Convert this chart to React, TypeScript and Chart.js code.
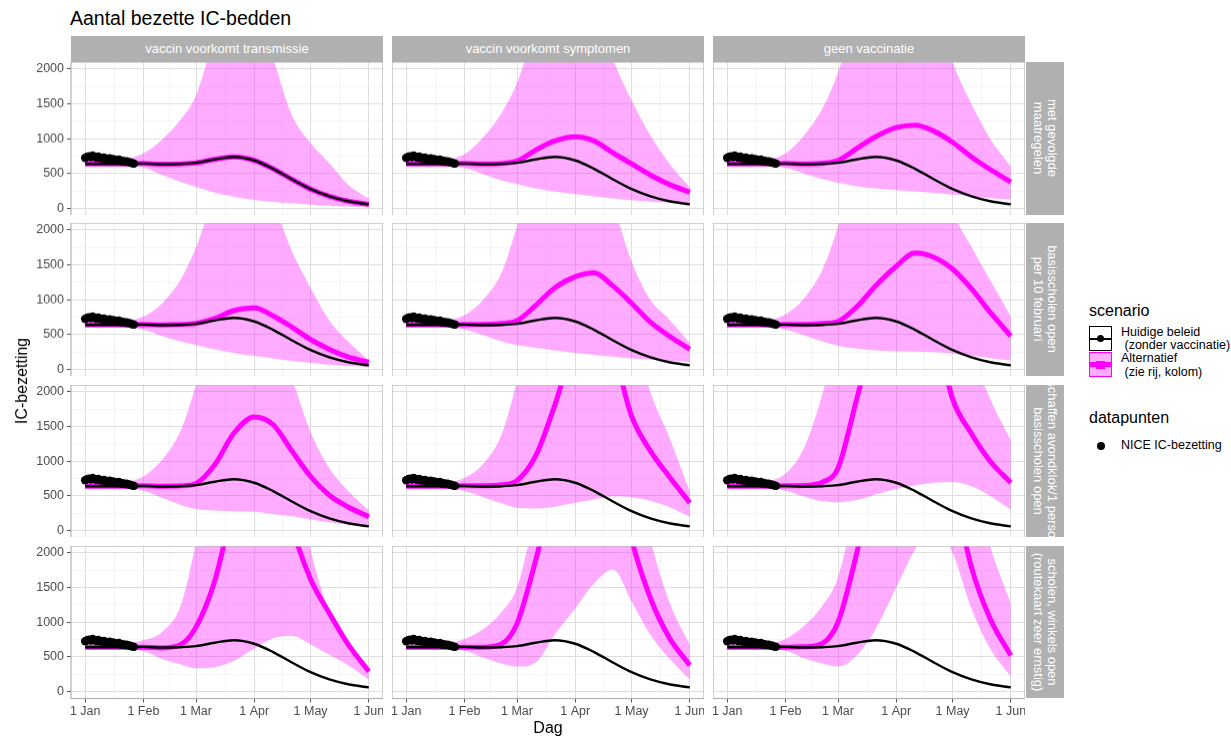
import React, { useEffect, useRef } from "react";
import { Chart, registerables } from "chart.js";

Chart.register(...registerables);

// ---------- data ----------
const days = [0, 10, 20, 31, 41, 51, 59, 69, 79, 90, 100, 110, 120, 130, 140, 151];

const colLabels = ["vaccin voorkomt transmissie", "vaccin voorkomt symptomen", "geen vaccinatie"];
const rowLabels = [
  "met gevolgde\nmaatregelen",
  "basisscholen open\nper 10 februari",
  "afschaffen avondklok/1 persoon\nbasisscholen open",
  "scholen, winkels open\n(routekaart zeer ernstig)",
];

const monthTicks = [0, 31, 59, 90, 120, 151];
const monthLabels = ["1 Jan", "1 Feb", "1 Mar", "1 Apr", "1 May", "1 Jun"];
const minorDayTicks = [15.5, 45, 74.5, 105, 135.5];
const yMajorTicks = [0, 500, 1000, 1500, 2000];
const yMinorTicks = [250, 750, 1250, 1750];

// Huidige beleid (zonder vaccinatie)
const baseline = [640, 640, 640, 645, 635, 640, 655, 705, 740, 690, 570, 420, 280, 175, 105, 60];

// NICE IC-bezetting
const niceDays = [0, 1, 2, 3, 4, 5, 6, 7, 8, 9, 10, 11, 12, 13, 14, 15, 16, 17, 18, 19, 20, 21, 22, 23, 24, 25, 26];
const niceValues = [725, 740, 750, 735, 760, 740, 730, 745, 725, 720, 730, 715, 705, 720, 700, 710, 695, 690, 700, 680, 685, 670, 675, 665, 660, 650, 645];

// Alternatief: mean / lower / upper per panel (row, column)
const mean11 = [640, 640, 640, 645, 635, 640, 655, 705, 740, 690, 570, 420, 280, 175, 105, 60];
const lo11 = [620, 620, 615, 590, 480, 380, 310, 230, 170, 125, 95, 75, 55, 40, 30, 25];
const hi11 = [660, 670, 690, 790, 990, 1280, 1620, 2450, 2950, 2850, 2150, 1340, 940, 650, 340, 140];

const mean12 = [640, 640, 640, 645, 640, 648, 680, 840, 970, 1030, 970, 800, 640, 480, 345, 235];
const lo12 = [620, 620, 615, 580, 490, 400, 350, 290, 245, 205, 175, 145, 120, 100, 85, 70];
const hi12 = [660, 670, 690, 780, 1020, 1380, 1800, 2600, 3200, 3400, 3000, 2150, 1550, 1050, 650, 300];

const mean13 = [640, 640, 640, 645, 640, 650, 690, 860, 1030, 1160, 1195, 1110, 950, 740, 560, 380];
const lo13 = [620, 620, 615, 585, 500, 420, 370, 320, 290, 265, 245, 225, 200, 175, 150, 130];
const hi13 = [660, 670, 690, 790, 1050, 1450, 1950, 2800, 3500, 3800, 3600, 3000, 2100, 1500, 1000, 600];

const mean21 = [640, 640, 640, 645, 640, 645, 660, 730, 845, 885, 770, 610, 430, 290, 180, 105];
const lo21 = [620, 620, 615, 575, 480, 400, 350, 290, 240, 195, 160, 125, 95, 70, 50, 35];
const hi21 = [660, 670, 690, 760, 950, 1300, 1750, 2500, 3000, 2900, 2400, 1700, 1170, 700, 400, 130];

const mean22 = [640, 640, 640, 645, 645, 660, 700, 920, 1170, 1330, 1385, 1200, 950, 680, 480, 290];
const lo22 = [620, 620, 615, 575, 490, 400, 350, 310, 275, 240, 210, 185, 160, 140, 125, 110];
const hi22 = [660, 670, 690, 780, 1000, 1400, 2050, 2900, 3500, 3700, 3300, 2400, 1550, 1000, 720, 380];

const mean23 = [640, 640, 640, 645, 645, 660, 690, 900, 1200, 1480, 1670, 1610, 1440, 1160, 820, 480];
const lo23 = [620, 620, 615, 575, 490, 400, 340, 300, 275, 265, 258, 250, 230, 200, 165, 130];
const hi23 = [660, 670, 690, 790, 1020, 1450, 2050, 3000, 3800, 4200, 4200, 3500, 2300, 1760, 1280, 760];

const mean31 = [640, 640, 640, 645, 640, 645, 680, 950, 1400, 1640, 1530, 1150, 780, 510, 340, 200];
const lo31 = [620, 620, 615, 575, 470, 370, 310, 290, 280, 270, 240, 205, 160, 120, 85, 55];
const hi31 = [660, 670, 690, 780, 1020, 1450, 2100, 3000, 3600, 3500, 2900, 2200, 1420, 900, 570, 290];

const mean32 = [640, 640, 640, 645, 645, 660, 720, 1080, 1800, 2700, 3000, 2600, 1650, 1150, 780, 400];
const lo32 = [620, 620, 615, 570, 480, 390, 330, 320, 345, 400, 450, 490, 480, 430, 340, 200];
const hi32 = [660, 670, 690, 760, 960, 1400, 2150, 3200, 4000, 4500, 4500, 4000, 3000, 2000, 1350, 560];

const mean33 = [640, 640, 640, 645, 650, 700, 900, 1900, 2900, 3500, 3600, 3000, 1900, 1400, 1000, 690];
const lo33 = [620, 620, 615, 575, 490, 420, 410, 440, 520, 600, 650, 690, 700, 640, 500, 300];
const hi33 = [660, 670, 700, 820, 1200, 2000, 2900, 4000, 4800, 5200, 5200, 4600, 3600, 2600, 1900, 1300];

const mean41 = [640, 640, 640, 640, 630, 680, 930, 1600, 2700, 3600, 3600, 2400, 1620, 1130, 680, 290];
const lo41 = [620, 620, 620, 580, 470, 390, 335, 350, 440, 620, 770, 800, 680, 530, 380, 170];
const hi41 = [660, 670, 690, 740, 860, 1250, 2150, 3500, 4500, 5000, 4800, 3500, 2050, 1150, 620, 360];

const mean42 = [640, 640, 640, 640, 640, 690, 980, 1900, 3000, 3900, 4100, 3500, 2200, 1350, 780, 380];
const lo42 = [620, 620, 620, 590, 490, 400, 360, 420, 820, 1200, 1560, 1760, 1300, 820, 480, 170];
const hi42 = [660, 670, 690, 760, 900, 1150, 1500, 2600, 3800, 4500, 4800, 4500, 3500, 2200, 1300, 670];

const mean43 = [640, 640, 640, 640, 645, 700, 1000, 2000, 3200, 4200, 4600, 4300, 3000, 1800, 1050, 520];
const lo43 = [620, 620, 620, 590, 480, 400, 360, 520, 900, 1500, 2050, 2400, 2000, 1200, 620, 215];
const hi43 = [660, 670, 690, 760, 950, 1250, 1650, 2800, 4000, 5000, 5500, 5500, 4500, 3200, 2100, 1270];

const panels = [
  [
    { mean: mean11, lo: lo11, hi: hi11 },
    { mean: mean12, lo: lo12, hi: hi12 },
    { mean: mean13, lo: lo13, hi: hi13 },
  ],
  [
    { mean: mean21, lo: lo21, hi: hi21 },
    { mean: mean22, lo: lo22, hi: hi22 },
    { mean: mean23, lo: lo23, hi: hi23 },
  ],
  [
    { mean: mean31, lo: lo31, hi: hi31 },
    { mean: mean32, lo: lo32, hi: hi32 },
    { mean: mean33, lo: lo33, hi: hi33 },
  ],
  [
    { mean: mean41, lo: lo41, hi: hi41 },
    { mean: mean42, lo: lo42, hi: hi42 },
    { mean: mean43, lo: lo43, hi: hi43 },
  ],
];

// ---------- layout / style ----------
const FONT = "'Liberation Sans', Arial, Helvetica, sans-serif";
const PANEL_W = 312;
const PANEL_H = 152.5;
const COL_X = [71, 392, 713];
const ROW_Y = [62, 223.2, 384.5, 545.8];
const Y_AXIS_W = 60;
const X_AXIS_H = 26;
const STRIP_BG = "#B0B0B0";
const BAND = "rgba(255, 0, 255, 0.33)";
const MAGENTA = "#FF00FF";

const pts = (xs: number[], ys: number[]) => xs.map((x, i) => ({ x, y: ys[i] }));

const borderPlugin = {
  id: "panelBorder",
  afterDraw(chart: any) {
    const { ctx, chartArea: a } = chart;
    ctx.save();
    ctx.strokeStyle = "#B3B3B3";
    ctx.lineWidth = 1.2;
    ctx.strokeRect(a.left, a.top, a.right - a.left, a.bottom - a.top);
    ctx.restore();
  },
};

function Panel({ r, c }: { r: number; c: number }) {
  const ref = useRef<HTMLCanvasElement>(null);
  const leftW = c === 0 ? Y_AXIS_W : 0;
  const bottomH = r === 3 ? X_AXIS_H : 0;

  useEffect(() => {
    const p = panels[r][c];
    const showX = r === 3;
    const showY = c === 0;
    const chart = new Chart(ref.current as HTMLCanvasElement, {
      type: "line",
      data: {
        datasets: [
          {
            data: pts(days, p.hi),
            fill: "+1",
            backgroundColor: BAND,
            borderWidth: 0,
            pointRadius: 0,
            cubicInterpolationMode: "monotone",
            order: 5,
          },
          {
            data: pts(days, p.lo),
            fill: false,
            borderWidth: 0,
            borderColor: "rgba(0,0,0,0)",
            pointRadius: 0,
            cubicInterpolationMode: "monotone",
            order: 6,
          },
          {
            data: pts(days, p.mean),
            fill: false,
            borderColor: MAGENTA,
            borderWidth: 5,
            pointRadius: 0,
            cubicInterpolationMode: "monotone",
            order: 3,
          },
          {
            data: pts(days, baseline),
            fill: false,
            borderColor: "#000000",
            borderWidth: 2.4,
            pointRadius: 0,
            cubicInterpolationMode: "monotone",
            order: 2,
          },
          {
            data: pts(niceDays, niceValues),
            showLine: false,
            fill: false,
            pointRadius: 4.2,
            pointBackgroundColor: "#000000",
            pointBorderColor: "#000000",
            pointBorderWidth: 0,
            order: 1,
          },
        ] as any,
      },
      options: {
        animation: false,
        responsive: true,
        maintainAspectRatio: false,
        layout: { padding: 0, autoPadding: false },
        events: [],
        plugins: { legend: { display: false }, tooltip: { enabled: false } },
        scales: {
          x: {
            type: "linear",
            min: -7.55,
            max: 158.55,
            afterBuildTicks: (s: any) => {
              s.ticks = [...monthTicks, ...minorDayTicks].sort((a, b) => a - b).map((v) => ({ value: v }));
            },
            afterFit: (s: any) => {
              s.height = bottomH;
              s.paddingLeft = 0;
              s.paddingRight = 0;
            },
            ticks: {
              display: showX,
              autoSkip: false,
              maxRotation: 0,
              minRotation: 0,
              padding: 2,
              color: "#4D4D4D",
              font: { family: FONT, size: 12.5 },
              callback: (v: any) => {
                const i = monthTicks.indexOf(Number(v));
                return i >= 0 ? monthLabels[i] : "";
              },
            },
            grid: {
              drawTicks: showX,
              tickLength: 4,
              color: (ctx: any) => (monthTicks.includes(ctx.tick?.value) ? "#DEDEDE" : "#EFEFEF"),
              lineWidth: (ctx: any) => (monthTicks.includes(ctx.tick?.value) ? 1 : 0.7),
              tickColor: (ctx: any) => (monthTicks.includes(ctx.tick?.value) ? "#555555" : "rgba(0,0,0,0)"),
              tickWidth: 1,
            },
            border: { display: false },
          },
          y: {
            type: "linear",
            min: -100,
            max: 2100,
            afterBuildTicks: (s: any) => {
              s.ticks = [...yMajorTicks, ...yMinorTicks].sort((a, b) => a - b).map((v) => ({ value: v }));
            },
            afterFit: (s: any) => {
              s.width = leftW;
              s.paddingTop = 0;
              s.paddingBottom = 0;
            },
            ticks: {
              display: showY,
              autoSkip: false,
              padding: 3,
              color: "#4D4D4D",
              font: { family: FONT, size: 12.5 },
              callback: (v: any) => (yMajorTicks.includes(Number(v)) ? String(v) : ""),
            },
            grid: {
              drawTicks: showY,
              tickLength: 4,
              color: (ctx: any) => (yMajorTicks.includes(ctx.tick?.value) ? "#DEDEDE" : "#EFEFEF"),
              lineWidth: (ctx: any) => (yMajorTicks.includes(ctx.tick?.value) ? 1 : 0.7),
              tickColor: (ctx: any) => (yMajorTicks.includes(ctx.tick?.value) ? "#555555" : "rgba(0,0,0,0)"),
              tickWidth: 1,
            },
            border: { display: false },
          },
        },
      } as any,
      plugins: [borderPlugin],
    });
    return () => chart.destroy();
  }, [r, c]);

  return (
    <div
      style={{
        position: "absolute",
        left: COL_X[c] - leftW,
        top: ROW_Y[r],
        width: PANEL_W + leftW,
        height: PANEL_H + bottomH,
      }}
    >
      <canvas ref={ref} />
    </div>
  );
}

function TopStrip({ c }: { c: number }) {
  return (
    <div
      style={{
        position: "absolute",
        left: COL_X[c],
        top: 36,
        width: PANEL_W,
        height: 26,
        background: STRIP_BG,
        color: "#FFFFFF",
        fontSize: 13,
        lineHeight: "26px",
        textAlign: "center",
        whiteSpace: "nowrap",
        overflow: "hidden",
      }}
    >
      {colLabels[c]}
    </div>
  );
}

function SideStrip({ r }: { r: number }) {
  return (
    <div
      style={{
        position: "absolute",
        left: 1026,
        top: ROW_Y[r],
        width: 38,
        height: PANEL_H,
        background: STRIP_BG,
        overflow: "hidden",
      }}
    >
      <div
        style={{
          position: "absolute",
          left: "50%",
          top: "50%",
          width: 400,
          transform: "translate(-50%, -50%) rotate(90deg)",
          color: "#FFFFFF",
          fontSize: 13,
          lineHeight: "14px",
          textAlign: "center",
          whiteSpace: "pre",
        }}
      >
        {rowLabels[r]}
      </div>
    </div>
  );
}

export default function App() {
  const cells: React.ReactNode[] = [];
  for (let r = 0; r < 4; r++) for (let c = 0; c < 3; c++) cells.push(<Panel key={`p${r}${c}`} r={r} c={c} />);

  return (
    <div
      style={{
        position: "fixed",
        left: 0,
        top: 0,
        width: 1231,
        height: 738,
        background: "#FFFFFF",
        fontFamily: FONT,
        overflow: "hidden",
      }}
    >
      <div style={{ position: "absolute", left: 70, top: 7, fontSize: 19.5, color: "#000" }}>
        Aantal bezette IC-bedden
      </div>

      {[0, 1, 2].map((c) => (
        <TopStrip key={`t${c}`} c={c} />
      ))}
      {[0, 1, 2, 3].map((r) => (
        <SideStrip key={`s${r}`} r={r} />
      ))}
      {cells}

      <div
        style={{
          position: "absolute",
          left: 22,
          top: 381,
          transform: "translate(-50%, -50%) rotate(-90deg)",
          fontSize: 16,
          whiteSpace: "nowrap",
          color: "#000",
        }}
      >
        IC-bezetting
      </div>
      <div
        style={{
          position: "absolute",
          left: 548,
          top: 728,
          transform: "translate(-50%, -50%)",
          fontSize: 16,
          color: "#000",
        }}
      >
        Dag
      </div>

      {/* legend */}
      <div style={{ position: "absolute", left: 1089, top: 302, fontSize: 16, color: "#000" }}>scenario</div>
      <div
        style={{
          position: "absolute",
          left: 1089,
          top: 326,
          width: 21,
          height: 23,
          border: "1.5px solid #000",
          background: "#fff",
        }}
      >
        <div style={{ position: "absolute", left: 0, right: 0, top: 10.5, height: 2, background: "#000" }} />
        <div
          style={{
            position: "absolute",
            left: 7,
            top: 8,
            width: 7,
            height: 7,
            borderRadius: "50%",
            background: "#000",
          }}
        />
      </div>
      <div
        style={{
          position: "absolute",
          left: 1089,
          top: 352,
          width: 21,
          height: 23,
          border: "1.5px solid " + MAGENTA,
          background: BAND,
        }}
      >
        <div style={{ position: "absolute", left: 0, right: 0, top: 9, height: 5, background: MAGENTA }} />
        <div
          style={{
            position: "absolute",
            left: 6,
            top: 7.5,
            width: 9,
            height: 8,
            background: MAGENTA,
          }}
        />
      </div>
      <div
        style={{
          position: "absolute",
          left: 1121,
          top: 326,
          fontSize: 12.5,
          lineHeight: "13px",
          whiteSpace: "pre",
          color: "#000",
        }}
      >
        {"Huidige beleid\n (zonder vaccinatie)"}
      </div>
      <div
        style={{
          position: "absolute",
          left: 1121,
          top: 351,
          fontSize: 12.5,
          lineHeight: "14px",
          whiteSpace: "pre",
          color: "#000",
        }}
      >
        {"Alternatief\n (zie rij, kolom)"}
      </div>

      <div style={{ position: "absolute", left: 1089, top: 409, fontSize: 16, color: "#000" }}>datapunten</div>
      <div
        style={{
          position: "absolute",
          left: 1097,
          top: 442,
          width: 8,
          height: 8,
          borderRadius: "50%",
          background: "#000",
        }}
      />
      <div style={{ position: "absolute", left: 1121, top: 438, fontSize: 12.5, color: "#000" }}>NICE IC-bezetting</div>
    </div>
  );
}
